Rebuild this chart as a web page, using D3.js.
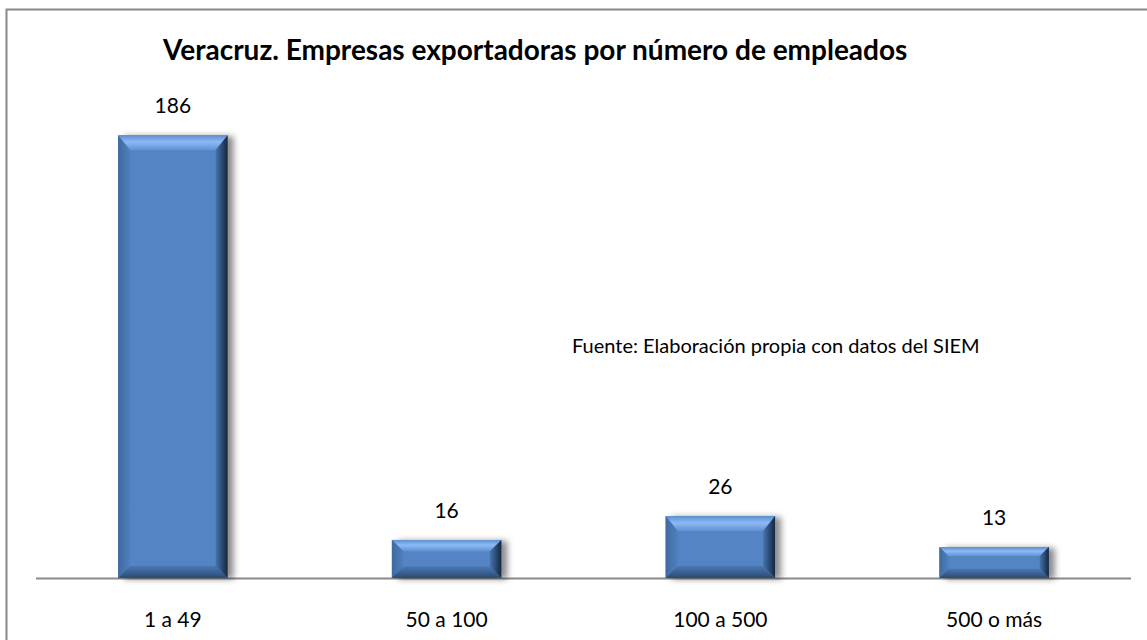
<!DOCTYPE html>
<html>
<head>
<meta charset="utf-8">
<script src="https://cdn.jsdelivr.net/npm/d3@7"></script>
<style>
  body { margin: 0; background: #fff; }
  svg { display: block; font-family: Lato, "Open Sans", sans-serif; }
</style>
</head>
<body>
<div id="chart"></div>
<script>
const categories = ["1 a 49", "50 a 100", "100 a 500", "500 o más"];
const values = [186, 16, 26, 13];
const yMax = 200;

const width = 1147, height = 640;
const svg = d3.select('#chart').append('svg')
    .attr('width', width)
    .attr('height', height);
const defs = svg.append('defs');

// frame
svg.append('rect')
    .attr('x', 6.5).attr('y', 9.5)
    .attr('width', 1160).attr('height', 660)
    .attr('fill', '#fff')
    .attr('stroke', '#888')
    .attr('stroke-width', 2);

const x = d3.scaleBand()
    .domain(categories)
    .range([36, 1131])
    .paddingInner(0.6)
    .paddingOuter(0.3);

const y = d3.scaleLinear()
    .domain([0, yMax])
    .range([578, 102]);

// gradients for bevel sides
function grad(id, x1, y1, x2, y2, stops) {
    const g = defs.append('linearGradient').attr('id', id)
        .attr('x1', x1).attr('y1', y1).attr('x2', x2).attr('y2', y2);
    stops.forEach(s => g.append('stop').attr('offset', s[0]).attr('stop-color', s[1]));
}
grad('bv-top', 0, 0, 0, 1, [['0%', '#5d8fd0'], ['45%', '#8dbaf5'], ['100%', '#5f90d2']]);
grad('bv-left', 0, 0, 1, 0, [['0%', '#3f6aa0'], ['100%', '#4f80be']]);
grad('bv-right', 0, 0, 1, 0, [['0%', '#4574b0'], ['100%', '#16263c']]);
grad('bv-bottom', 0, 0, 0, 1, [['0%', '#4a78b4'], ['100%', '#2c4a72']]);

const shadow = defs.append('filter').attr('id', 'shadow')
    .attr('x', '-20%').attr('y', '-20%').attr('width', '150%').attr('height', '150%');
shadow.append('feDropShadow')
    .attr('dx', 6).attr('dy', 1).attr('stdDeviation', 3)
    .attr('flood-color', '#000').attr('flood-opacity', 0.45);

// axis line
svg.append('line')
    .attr('x1', 36).attr('x2', 1131)
    .attr('y1', 578.5).attr('y2', 578.5)
    .attr('stroke', '#8a8a8a')
    .attr('stroke-width', 2);

const bars = svg.selectAll('.bar')
    .data(values)
    .join('g')
    .attr('class', 'bar');

bars.each(function(v, i) {
    const g = d3.select(this);
    const x0 = x(categories[i]);
    const x1 = x0 + x.bandwidth();
    const y0 = y(v);
    const y1 = y(0);
    const h = y1 - y0;
    const bt = Math.min(15, h * 0.3);
    const bs = Math.min(12, h * 0.3);
    const bb = Math.min(12, h * 0.3);

    g.append('rect')
        .attr('x', x0).attr('y', y0)
        .attr('width', x1 - x0).attr('height', h)
        .attr('fill', '#5484c4')
        .attr('filter', 'url(#shadow)');

    const poly = (pts, fill) => g.append('polygon')
        .attr('points', pts.map(p => p.join(',')).join(' '))
        .attr('fill', fill);

    poly([[x0, y0], [x1, y0], [x1 - bs, y0 + bt], [x0 + bs, y0 + bt]], 'url(#bv-top)');
    poly([[x0, y0], [x0 + bs, y0 + bt], [x0 + bs, y1 - bb], [x0, y1]], 'url(#bv-left)');
    poly([[x1, y0], [x1, y1], [x1 - bs, y1 - bb], [x1 - bs, y0 + bt]], 'url(#bv-right)');
    poly([[x0, y1], [x0 + bs, y1 - bb], [x1 - bs, y1 - bb], [x1, y1]], 'url(#bv-bottom)');
});

// value labels
svg.selectAll('.val')
    .data(values)
    .join('text')
    .attr('class', 'val')
    .attr('x', (d, i) => x(categories[i]) + x.bandwidth() / 2)
    .attr('y', d => y(d) - 22)
    .attr('text-anchor', 'middle')
    .attr('font-size', 21)
    .attr('fill', '#000')
    .text(d => d);

// category labels
svg.selectAll('.cat')
    .data(categories)
    .join('text')
    .attr('class', 'cat')
    .attr('x', d => x(d) + x.bandwidth() / 2)
    .attr('y', 627)
    .attr('text-anchor', 'middle')
    .attr('font-size', 21)
    .attr('fill', '#000')
    .text(d => d);

// title
svg.append('text')
    .attr('x', 163)
    .attr('y', 60)
    .attr('font-size', 28)
    .attr('font-weight', 'bold')
    .attr('fill', '#000')
    .text('Veracruz. Empresas exportadoras por número de empleados');

// source note
svg.append('text')
    .attr('x', 572)
    .attr('y', 353)
    .attr('font-size', 20)
    .attr('fill', '#000')
    .text('Fuente: Elaboración propia con datos del SIEM');
</script>
</body>
</html>
